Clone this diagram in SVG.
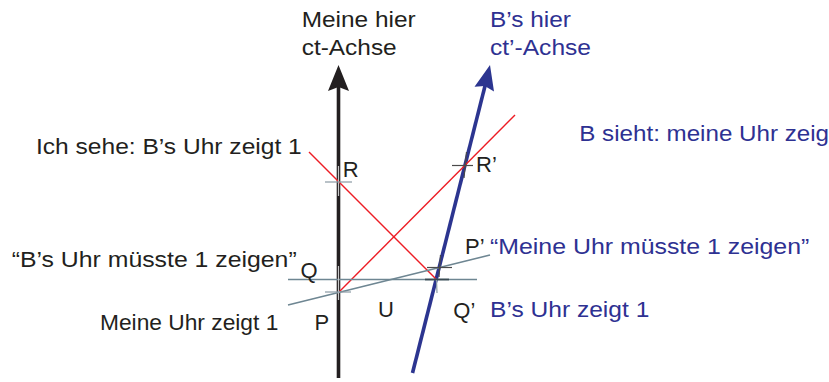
<svg xmlns="http://www.w3.org/2000/svg" width="829" height="382" viewBox="0 0 829 382">
<style>
text{font-family:"Liberation Sans",Arial,sans-serif;font-size:22px}
.k{fill:#231f20}
.b{fill:#2e3192}
.red{stroke:#ed1c24;stroke-width:1.4;fill:none}
.gry{stroke:#6e8692;stroke-width:1.6;fill:none}
.tk{stroke:#4a4a4a;stroke-width:1.2;fill:none}
.lt{stroke:#c8c8c8;stroke-width:1.2;fill:none}
.gt{stroke:#8a9aa3;stroke-width:1.2;fill:none}
</style>
<rect width="829" height="382" fill="#ffffff"/>
<g id="axis-ct">
<line x1="338.5" y1="378" x2="338.5" y2="84" stroke="#231f20" stroke-width="3.6"/>
<polygon points="338.5,65 349,91 338.5,87 328,91" fill="#231f20"/>
</g>
<g id="axis-ctprime">
<line x1="412.5" y1="373" x2="485.5" y2="84" stroke="#2c3590" stroke-width="3.6"/>
<polygon points="490,65 494,91.5 484.8,86 474.5,86.8" fill="#2c3590"/>
</g>
<g id="connectors">
<line class="red" x1="309" y1="152" x2="436" y2="279"/>
<line class="red" x1="339" y1="292" x2="515" y2="115"/>
<line class="gry" x1="288" y1="279.5" x2="477" y2="279.5"/>
<line class="gry" x1="288" y1="305" x2="490" y2="255"/>
</g>
<g id="ticks">
<line class="lt" x1="338.5" y1="166" x2="338.5" y2="196"/>
<line class="gt" x1="325" y1="182" x2="352" y2="182"/>
<line class="lt" x1="338.5" y1="266" x2="338.5" y2="300"/>
<line class="gt" x1="325" y1="292" x2="351" y2="292"/>
<line class="tk" x1="452" y1="165.5" x2="473" y2="165.5"/>
<line class="tk" x1="466.5" y1="152" x2="464" y2="178"/>
<line class="tk" x1="427" y1="267.5" x2="452" y2="267.5"/>
<line class="tk" x1="440.5" y1="255" x2="439" y2="277"/>
<line stroke="#3a4a52" stroke-width="1.8" x1="425" y1="279.5" x2="449" y2="279.5"/>
<line class="gt" x1="436.5" y1="280" x2="437" y2="293"/>
</g>
<g id="labels">
<text class="k" x="301.7" y="26.7" textLength="114" lengthAdjust="spacingAndGlyphs">Meine hier</text>
<text class="k" x="301.7" y="55" textLength="95" lengthAdjust="spacingAndGlyphs">ct-Achse</text>
<text class="b" x="490" y="26.7" textLength="81" lengthAdjust="spacingAndGlyphs">B’s hier</text>
<text class="b" x="490" y="55" textLength="101" lengthAdjust="spacingAndGlyphs">ct’-Achse</text>
<text class="k" x="36" y="154.3" textLength="265.7" lengthAdjust="spacingAndGlyphs">Ich sehe: B’s Uhr zeigt 1</text>
<text class="k" x="342.7" y="176.7">R</text>
<text class="k" x="476" y="171.7">R’</text>
<text class="b" x="579.3" y="140.7" textLength="249.7" lengthAdjust="spacingAndGlyphs">B sieht: meine Uhr zeig</text>
<text class="k" x="11.7" y="266.7" textLength="285" lengthAdjust="spacingAndGlyphs">“B’s Uhr müsste 1 zeigen”</text>
<text class="k" x="300.5" y="278">Q</text>
<text class="k" x="100" y="329.5" textLength="178.3" lengthAdjust="spacingAndGlyphs">Meine Uhr zeigt 1</text>
<text class="k" x="314.5" y="330">P</text>
<text class="k" x="378" y="317">U</text>
<text class="k" x="453.3" y="318">Q’</text>
<text class="b" x="490" y="317" textLength="159.3" lengthAdjust="spacingAndGlyphs">B’s Uhr zeigt 1</text>
<text class="k" x="465" y="254">P’</text>
<text class="b" x="490" y="254" textLength="319.3" lengthAdjust="spacingAndGlyphs">“Meine Uhr müsste 1 zeigen”</text>
</g>
</svg>
